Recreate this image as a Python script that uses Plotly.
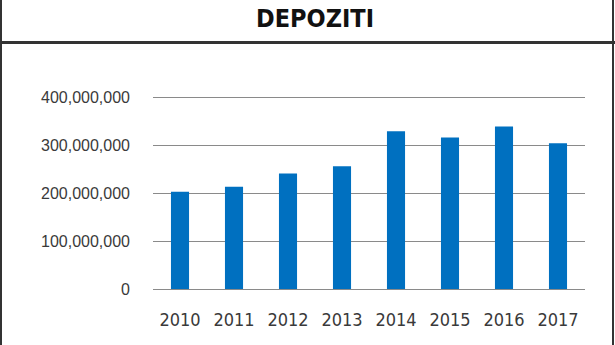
import plotly.graph_objects as go

# Deposits per year
years = ["2010", "2011", "2012", "2013", "2014", "2015", "2016", "2017"]
deposits = [203_000_000, 213_000_000, 241_000_000, 256_000_000,
            329_000_000, 316_000_000, 339_000_000, 304_000_000]
y_ticks = [0, 100_000_000, 200_000_000, 300_000_000, 400_000_000]

W, H = 615, 345
L, R, T, B = 153, 30, 90, 56
PW, PH = W - L - R, H - T - B
Y_MAX = 415_000_000


def px_x(px):
    return (px - L) / PW


def px_y(py):
    return (H - B - py) / PH


fig = go.Figure(
    go.Bar(
        x=years,
        y=deposits,
        marker=dict(color="#0070C0", line=dict(width=0)),
        hoverinfo="x+y",
    )
)

frame = dict(type="line", xref="paper", yref="paper",
             line=dict(color="#333333", width=2))
shapes = [
    dict(frame, x0=px_x(1), x1=px_x(1), y0=px_y(-5), y1=px_y(H + 5)),
    dict(frame, x0=px_x(613), x1=px_x(613), y0=px_y(-5), y1=px_y(H + 5)),
    dict(frame, x0=px_x(-5), x1=px_x(W + 5), y0=px_y(42.5), y1=px_y(42.5),
         line=dict(color="#333333", width=3)),
]

COND = "DejaVu Sans Condensed, Liberation Sans Narrow, sans-serif"

fig.update_layout(
    width=W,
    height=H,
    margin=dict(l=L, r=R, t=T, b=B, pad=0, autoexpand=False),
    paper_bgcolor="white",
    plot_bgcolor="white",
    bargap=0.665,
    showlegend=False,
    shapes=shapes,
    title=dict(
        text="<b>DEPOZITI</b>",
        x=315 / W,
        xref="container",
        xanchor="center",
        y=1 - 18 / H,
        yref="container",
        yanchor="middle",
        font=dict(family=COND, size=25, color="#111111"),
    ),
    xaxis=dict(
        type="category",
        automargin=False,
        showgrid=False,
        showline=True,
        linecolor="#8a8a8a",
        linewidth=1.2,
        ticks="",
        ticklabelstandoff=14,
        tickfont=dict(family=COND, size=18, color="#3a3a3a"),
        fixedrange=True,
    ),
    yaxis=dict(
        range=[0, Y_MAX],
        automargin=False,
        tickvals=y_ticks,
        tickformat=",d",
        showgrid=True,
        gridcolor="#8a8a8a",
        gridwidth=1.2,
        zeroline=False,
        showline=False,
        ticks="",
        ticklabelstandoff=22,
        tickfont=dict(family="Liberation Sans, Arial, sans-serif",
                      size=16, color="#3a3a3a"),
        fixedrange=True,
    ),
)

fig.write_html("out.html", config={"displayModeBar": False})
